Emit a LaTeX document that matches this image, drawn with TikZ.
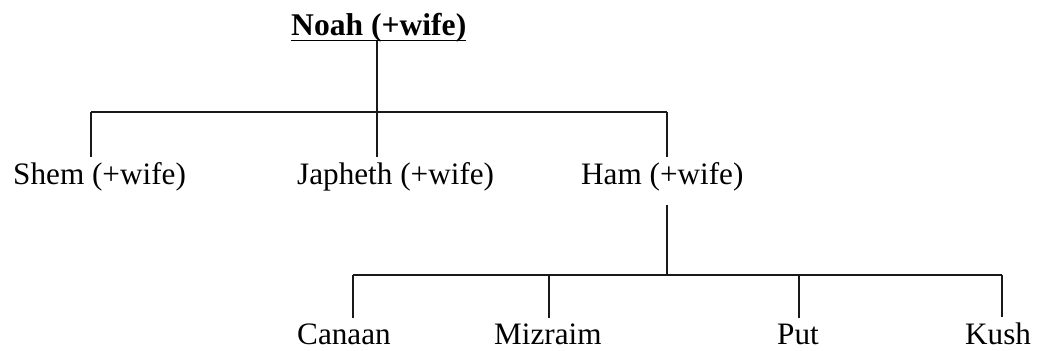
\documentclass[tikz,border=0pt]{standalone}
\usepackage{fontspec}
\setmainfont{Liberation Serif}
\tikzset{
  person/.style={inner xsep=0pt, inner ysep=5pt, anchor=base west, font=\fontsize{31.2}{37}\selectfont},
  grandson/.style={person, inner ysep=0pt},
  branch/.style={line width=1.5pt, color=black!90}
}
\begin{document}
\begin{tikzpicture}[x=1pt,y=-1pt]
                \useasboundingbox (0,0) rectangle (1037,351);

                \node[person, inner ysep=0pt, font=\fontsize{31.6}{37}\selectfont\bfseries] (noah) at (291,35) {\underline{\raisebox{0pt}[\height][4pt]{Noah (+wife)}}};

                \node[person] (shem) at (13,184) {Shem (+wife)};
                \node[person] (japheth) at (297,184) {Japheth (+wife)};
                \node[person] (ham) at (581,184) {Ham (+wife)};

                \node[grandson] (canaan) at (297,344) {Canaan};
                \node[grandson] (mizraim) at (494,344) {Mizraim};
                \node[grandson] (put) at (777,344) {Put};
                \node[grandson] (kush) at (965,344) {Kush};

                \coordinate (shemdrop) at (91,112);
                \coordinate (japhethdrop) at (377,112);
                \coordinate (hamdrop) at (667,112);
                \coordinate (hamkids) at (667,275);
                \coordinate (canaandrop) at (353,275);
                \coordinate (mizraimdrop) at (549,275);
                \coordinate (putdrop) at (799,275);
                \coordinate (kushdrop) at (1002,275);

                \draw[branch] (shemdrop) -- (hamdrop);
                \draw[branch] (noah.south -| japhethdrop) -- (japhethdrop);
                \foreach \son in {shem,japheth,ham} \draw[branch] (\son drop) -- (\son.north -| \son drop);

                \draw[branch,shorten <=9pt] (ham.south -| hamkids) -- (hamkids);
                \draw[branch] (canaandrop) -- (kushdrop);
                \foreach \kid in {canaan,mizraim,put,kush} \draw[branch,shorten >=5pt] (\kid drop) -- (\kid.north -| \kid drop);

            \end{tikzpicture}
\end{document}
